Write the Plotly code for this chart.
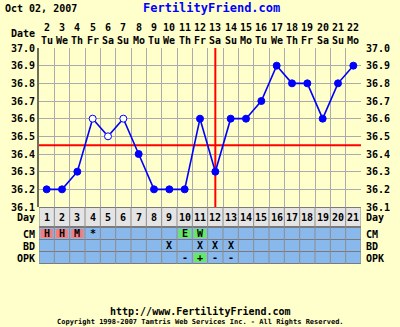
import plotly.graph_objects as go

days = list(range(1, 22))
dates = [str(d) for d in range(2, 23)]
weekdays = ["Tu", "We", "Th", "Fr", "Sa", "Su", "Mo",
            "Tu", "We", "Th", "Fr", "Sa", "Su", "Mo",
            "Tu", "We", "Th", "Fr", "Sa", "Su", "Mo"]
temps = [36.2, 36.2, 36.3, 36.6, 36.5, 36.6, 36.4, 36.2, 36.2, 36.2, 36.6,
         36.3, 36.6, 36.6, 36.7, 36.9, 36.8, 36.8, 36.6, 36.8, 36.9]
open_days = [4, 5, 6]
coverline = 36.45
ovulation_day = 12
y_ticks = [37.0, 36.9, 36.8, 36.7, 36.6, 36.5, 36.4, 36.3, 36.2, 36.1]

cm_marks = {1: "H", 2: "H", 3: "M", 4: "*", 10: "E", 11: "W"}
cm_colors = {1: "#F08080", 2: "#F08080", 3: "#F08080", 10: "#66E866", 11: "#66E866"}
bd_marks = {9: "X", 11: "X", 12: "X", 13: "X"}
opk_marks = {10: "-", 11: "+", 12: "-", 13: "-"}
opk_colors = {11: "#66E866"}

W, H = 400, 327
L, R, T, B = 39, 39, 48, 120
PH = H - T - B  # plot height in px
BG = "#FFFFCC"
FONT = "DejaVu Sans Mono"


def py(pix):
    """pixel row -> paper y"""
    return (H - B - pix) / PH


px_per_day = (W - L - R) / 21.0

fig = go.Figure()

# coverline & ovulation line
fig.add_trace(go.Scatter(x=[0.5, 21.5], y=[coverline, coverline], mode="lines",
                         line=dict(color="#FF0000", width=2), hoverinfo="skip",
                         showlegend=False))
fig.add_trace(go.Scatter(x=[ovulation_day, ovulation_day], y=[36.1, 37.0], mode="lines",
                         line=dict(color="#FF0000", width=2), hoverinfo="skip",
                         showlegend=False))

fig.add_trace(go.Scatter(
    x=days, y=temps, mode="lines+markers",
    line=dict(color="#0000FF", width=1.6),
    marker=dict(size=7,
                color=["#FFFFFF" if d in open_days else "#0000FF" for d in days],
                line=dict(color="#0000FF", width=1)),
    showlegend=False, cliponaxis=False))

shapes = []
annotations = []

# table
tbl_top, tbl_bot = 207, 264
shapes.append(dict(type="rect", xref="x", yref="paper", x0=0.5, x1=21.5,
                   y0=py(tbl_bot), y1=py(tbl_top), fillcolor="#7A7A7A",
                   line=dict(width=0), layer="above"))
rows = [("Day", 208, 226, "#E4E4E4"), ("CM", 228, 239, "#88B8EC"),
        ("BD", 240, 251, "#88B8EC"), ("OPK", 252, 263, "#88B8EC")]
for name, a, b, col in rows:
    shapes.append(dict(type="rect", xref="x", yref="paper", x0=0.5, x1=21.5,
                       y0=py(b), y1=py(a), fillcolor=col, line=dict(width=0),
                       layer="above"))
for k in range(22):
    shapes.append(dict(type="line", xref="x", yref="paper", x0=0.5 + k, x1=0.5 + k,
                       y0=py(tbl_bot), y1=py(tbl_top), line=dict(color="#8C8C8C", width=1),
                       layer="above"))

inset = 1.5 / px_per_day


def cell_fill(day, a, b, color):
    shapes.append(dict(type="rect", xref="x", yref="paper",
                       x0=day - 0.5 + inset, x1=day + 0.5 - inset,
                       y0=py(b - 1), y1=py(a + 1), fillcolor=color,
                       line=dict(width=0), layer="above"))


def txt(x, y, s, size=10, color="#000000", xanchor="center", xref="x", yref="paper",
        xshift=0, yshift=0):
    annotations.append(dict(x=x, y=y, text=s, xref=xref, yref=yref, showarrow=False,
                            xanchor=xanchor, yanchor="middle", xshift=xshift, yshift=yshift,
                            font=dict(family=FONT, size=size, color=color, weight="bold")))


for d in days:
    txt(d, py(217.5), str(d))
for d, c in cm_colors.items():
    cell_fill(d, 228, 239, c)
for d, c in opk_colors.items():
    cell_fill(d, 252, 263, c)
for d, s in cm_marks.items():
    txt(d, py(233.5), s)
for d, s in bd_marks.items():
    txt(d, py(245.5), s)
for d, s in opk_marks.items():
    txt(d, py(257.5), s)

for name, a, b, col in rows:
    ym = py((a + b) / 2 + 0.5)
    txt(0, ym, name, xref="paper", xanchor="right", xshift=-2)
    txt(1, ym, name, xref="paper", xanchor="left", xshift=3)

# y labels
for v in y_ticks:
    txt(0, v, f"{v:.1f}", xref="paper", yref="y", xanchor="right", xshift=-2)
    txt(1, v, f"{v:.1f}", xref="paper", yref="y", xanchor="left", xshift=3)

# date labels
for d, n, w in zip(days, dates, weekdays):
    txt(d, 1, n, yshift=21)
    txt(d, 1, w, yshift=8)
txt(0, 1, "Date", xref="paper", xanchor="right", xshift=-2, yshift=15)

# header / footer
txt(0, 1, "Oct 02, 2007", xref="paper", xanchor="left", xshift=-36, yshift=40)
txt((211 - L) / (W - L - R), 1, "FertilityFriend.com", size=12, color="#0000FF",
    xref="paper", yshift=40)
txt((200 - L) / (W - L - R), 0, "http://www.FertilityFriend.com", xref="paper",
    yshift=-104)
txt((200 - L) / (W - L - R), 0,
    "Copyright 1998-2007 Tamtris Web Services Inc. - All Rights Reserved.",
    size=7, xref="paper", yshift=-115)

fig.update_layout(
    width=W, height=H, margin=dict(l=L, r=R, t=T, b=B, pad=0),
    paper_bgcolor=BG, plot_bgcolor=BG,
    xaxis=dict(range=[0.5, 21.5], tickvals=[k + 0.5 for k in range(22)],
               showticklabels=False, showgrid=True, gridcolor="#ABABAB", gridwidth=1,
               zeroline=False, showline=False, ticks="", fixedrange=True),
    yaxis=dict(range=[36.1, 37.0], tickvals=y_ticks, showticklabels=False,
               showgrid=True, gridcolor="#ABABAB", gridwidth=1, zeroline=False,
               showline=True, linecolor="#6E6E5A", linewidth=2, mirror=False, ticks=""),
    shapes=shapes, annotations=annotations, showlegend=False,
)

fig.write_html("out.html")
